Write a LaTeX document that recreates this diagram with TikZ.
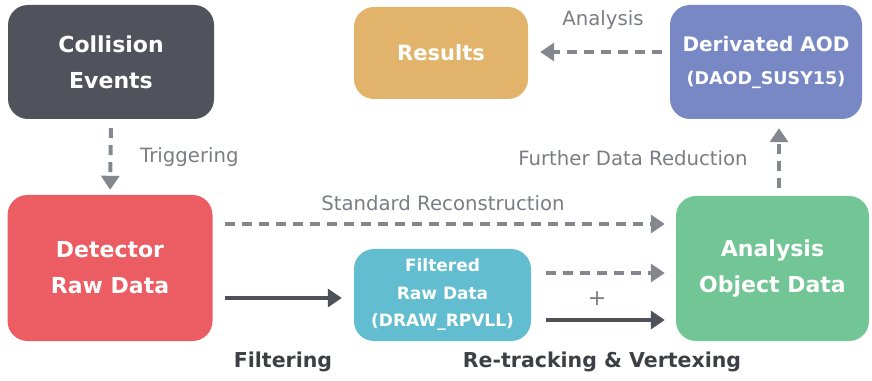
\documentclass[tikz,border=0pt]{standalone}
\usepackage{fontspec}
\setmainfont{DejaVu Sans}
\usetikzlibrary{arrows.meta}
\definecolor{cColl}{HTML}{50535C}
\definecolor{cRaw}{HTML}{EB5C63}
\definecolor{cFilt}{HTML}{61BDCF}
\definecolor{cAod}{HTML}{72C595}
\definecolor{cRes}{HTML}{E2B46B}
\definecolor{cDaod}{HTML}{7788C5}
\definecolor{cArr}{HTML}{85878F}
\definecolor{cDark}{HTML}{4F5159}
\definecolor{cLab}{HTML}{7B7D84}
\definecolor{cBold}{HTML}{3E3F45}
\tikzset{
  box/.style={draw=none, rounded corners=20pt, minimum width=#1, inner sep=0pt, text=white, align=center,
    font=\fontsize{22}{36}\selectfont\bfseries},
  smallbox/.style={box=#1, font=\fontsize{17}{27.5}\selectfont\bfseries},
  darr/.style={cArr, line width=4pt, dash pattern=on 10pt off 7pt, -{Triangle[width=18pt,length=14pt]}},
  sarr/.style={cDark, line width=4pt, -{Triangle[width=18pt,length=14pt]}},
  lab/.style={text=cLab, font=\fontsize{19.7}{21}\selectfont, inner sep=0pt},
  blab/.style={text=cBold, font=\fontsize{20.5}{22}\selectfont\bfseries, inner sep=0pt},
}
\begin{document}
\begin{tikzpicture}[x=1pt,y=1pt]
\useasboundingbox (0,0) rectangle (872,380);
\node[box=206pt, minimum height=114pt, fill=cColl] (coll) at (111,318) {Collision\\Events};
\node[box=205pt, minimum height=146pt, fill=cRaw] (raw) at (110,112) {Detector\\Raw Data};
\node[smallbox=177pt, minimum height=92pt, fill=cFilt] (filt) at (442.5,85) {Filtered\\Raw Data\\(DRAW\_RPVLL)};
\node[box=193pt, minimum height=145pt, fill=cAod] (aod) at (772.5,111.5) {Analysis\\Object Data};
\node[box=174pt, minimum height=92pt, fill=cRes, font=\fontsize{21}{36}\selectfont\bfseries] (res) at (441,327) {Results};
\node[box=192pt, minimum height=114pt, fill=cDaod, font=\fontsize{20}{33}\selectfont\bfseries] (daod) at (766,318) {Derivated AOD\\{\fontsize{17.5}{20}\selectfont (DAOD\_SUSY15)}};

\draw[darr, shorten <=9pt, shorten >=5pt] (coll.south) -- (raw.north);
\draw[darr, shorten <=12pt, shorten >=11pt] (raw.east |- 0,156) -- (aod.west |- 0,156);
\draw[sarr, shorten <=12pt, shorten >=12pt] (raw.east |- 0,82) -- (filt.west |- 0,82);
\draw[darr, shorten <=15pt, shorten >=11pt] (filt.east |- 0,107) -- (aod.west |- 0,107);
\draw[sarr, shorten <=15pt, shorten >=11pt] (filt.east |- 0,60) -- (aod.west |- 0,60);
\draw[darr, shorten <=8pt, shorten >=12pt] (daod.west |- 0,328) -- (res.east |- 0,328);
\draw[darr, shorten <=8pt, shorten >=9pt] (aod.north -| 779,0) -- (daod.south -| 779,0);

\node[lab, anchor=west] (ltrig) at (140,223) {Triggering};
\node[lab] (lstd) at (443,177) {Standard Reconstruction};
\node[lab] (lana) at (603,360) {Analysis};
\node[lab] (lfur) at (633,222) {Further Data Reduction};
\node[lab, font=\fontsize{22}{24}\selectfont] (lplus) at (597,81) {+};
\node[blab] (lfil) at (283,18) {Filtering};
\node[blab] (lret) at (602,18) {Re-tracking \& Vertexing};
\end{tikzpicture}
\end{document}
